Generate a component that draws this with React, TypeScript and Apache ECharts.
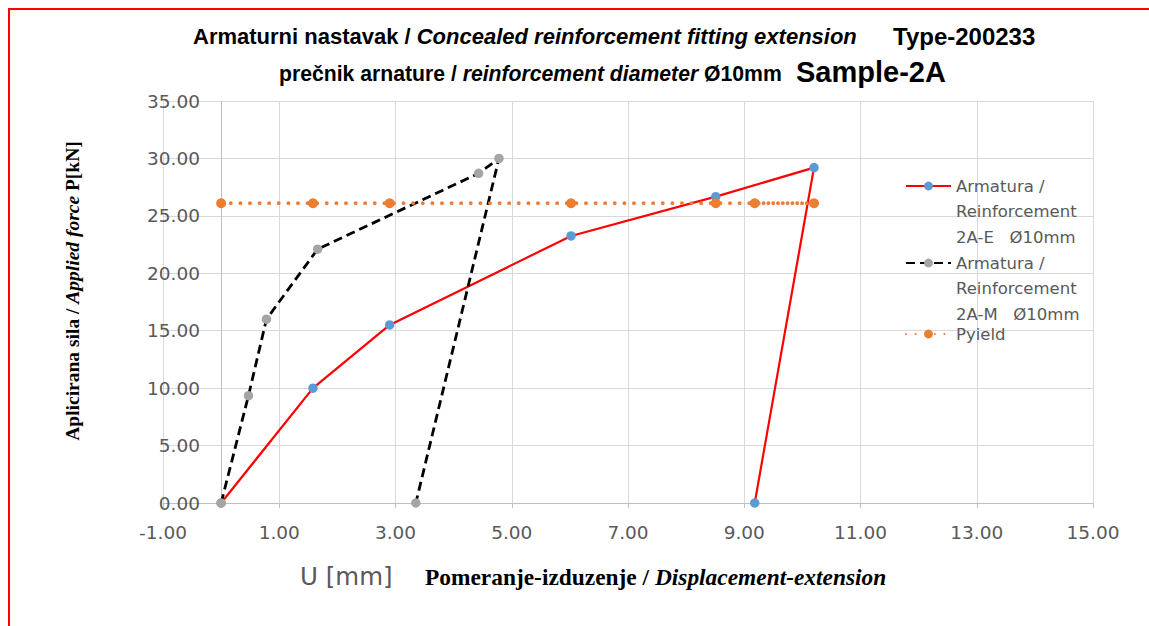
import React, { useEffect, useRef } from "react";
import * as echarts from "echarts";

// ---- data ----
const seriesNames = [
  "Armatura / Reinforcement 2A-E   Ø10mm",
  "Armatura / Reinforcement 2A-M   Ø10mm",
  "Pyield",
];
const legendLines = [
  ["Armatura /", "Reinforcement", "2A-E\u00a0\u00a0\u00a0Ø10mm"],
  ["Armatura /", "Reinforcement", "2A-M\u00a0\u00a0\u00a0Ø10mm"],
  ["Pyield"],
];
// Series 2A-E (red line, blue markers)
const eX = [0, 1.58, 2.9, 6.02, 8.51, 10.2, 9.18];
const eY = [0, 10.0, 15.5, 23.25, 26.67, 29.2, 0];
// Series 2A-M (black dashed, grey markers)
const mX = [0, 0.47, 0.78, 1.66, 4.43, 4.78, 3.35];
const mY = [0, 9.34, 16.0, 22.1, 28.7, 30.0, 0];
// Pyield (orange dotted)
const pX = [0, 1.58, 2.9, 6.02, 8.51, 10.2, 9.18];
const pY = [26.1, 26.1, 26.1, 26.1, 26.1, 26.1, 26.1];

// axis ranges
const X_MIN = -1;
const X_MAX = 15;
const X_STEP = 2;
const Y_MIN = 0;
const Y_MAX = 35;
const Y_STEP = 5;

// x axis is shifted so that min is a multiple of the interval
const X_SHIFT = -X_MIN;

const LEGEND_LH = 25.5;

export default function App() {
  const ref = useRef<HTMLDivElement>(null);

  useEffect(() => {
    if (!ref.current) return;
    const chart = echarts.init(ref.current, undefined, { renderer: "svg" });

    const toPairs = (xs: number[], ys: number[]) =>
      xs.map((x, i) => [x + X_SHIFT, ys[i]]);

    const labelFont = {
      color: "#595959",
      fontFamily: "DejaVu Sans",
      fontSize: 18.5,
    };

    // icon centre (first text line) of each legend entry
    const legendTops = [186, 263, 334];
    const legends = seriesNames.map((name, i) => {
      const n = legendLines[i].length;
      // leading blank lines so that the first real line is centred on the icon
      const lines = [...Array(n - 1).fill(""), ...legendLines[i]];
      const boxH = lines.length * LEGEND_LH;
      return {
        show: true,
        orient: "vertical",
        left: 905,
        top: legendTops[i] - boxH / 2,
        padding: 0,
        itemGap: 0,
        itemWidth: 45,
        itemHeight: 11,
        selectedMode: false,
        data: [name],
        formatter: () => lines.join("\n"),
        textStyle: {
          color: "#595959",
          fontFamily: "DejaVu Sans",
          fontSize: 16.5,
          lineHeight: LEGEND_LH,
        },
      };
    });

    const titleSans = "Liberation Sans";
    const serif = "Liberation Serif";

    const option: any = {
      animation: false,
      backgroundColor: "#ffffff",
      grid: {
        left: 163,
        right: 1149 - 1093,
        top: 101,
        bottom: 626 - 503,
        containLabel: false,
        outerBoundsMode: "none",
      },
      legend: legends,
      xAxis: {
        type: "value",
        min: X_MIN + X_SHIFT,
        max: X_MAX + X_SHIFT,
        interval: X_STEP,
        axisLine: { show: true, onZero: true, lineStyle: { color: "#BFBFBF", width: 1 } },
        axisTick: { show: true, length: 5, lineStyle: { color: "#BFBFBF" } },
        axisLabel: {
          ...labelFont,
          margin: 20,
          formatter: (v: number) => (v - X_SHIFT).toFixed(2),
        },
        splitLine: { show: true, lineStyle: { color: "#D9D9D9", width: 1 } },
      },
      yAxis: {
        type: "value",
        min: Y_MIN,
        max: Y_MAX,
        interval: Y_STEP,
        axisLine: { show: false },
        axisTick: { show: false },
        axisLabel: {
          ...labelFont,
          margin: -37,
          align: "right",
          formatter: (v: number) => v.toFixed(2),
        },
        splitLine: { show: true, lineStyle: { color: "#D9D9D9", width: 1 } },
      },
      series: [
        {
          name: seriesNames[0],
          type: "line",
          data: toPairs(eX, eY),
          symbol: "circle",
          symbolSize: 9.5,
          itemStyle: { color: "#5B9BD5" },
          lineStyle: { color: "#FF0000", width: 2.2 },
          emphasis: { disabled: true },
          markLine: {
            silent: true,
            symbol: "none",
            label: { show: false },
            lineStyle: { color: "#BFBFBF", type: "solid", width: 1 },
            emphasis: { disabled: true },
            data: [{ xAxis: 0 + X_SHIFT }],
            z: 0,
          },
          z: 3,
        },
        {
          name: seriesNames[1],
          type: "line",
          data: toPairs(mX, mY),
          symbol: "circle",
          symbolSize: 9.5,
          itemStyle: { color: "#A5A5A5" },
          lineStyle: { color: "#000000", width: 2.8, type: [9, 5] },
          emphasis: { disabled: true },
          z: 4,
        },
        {
          name: seriesNames[2],
          type: "line",
          data: toPairs(pX, pY),
          symbol: "circle",
          symbolSize: 10,
          itemStyle: { color: "#ED7D31" },
          lineStyle: { color: "#ED7D31", width: 3.8, type: [0.1, 9.5], cap: "round" },
          emphasis: { disabled: true },
          z: 5,
        },
      ],
      graphic: [
        {
          type: "text",
          x: 193,
          y: 36,
          style: {
            text: "{a|Armaturni nastavak / }{b|Concealed reinforcement fitting extension}",
            align: "left",
            verticalAlign: "middle",
            rich: {
              a: { fontFamily: titleSans, fontWeight: "bold", fontSize: 22, fill: "#000" },
              b: { fontFamily: titleSans, fontWeight: "bold", fontStyle: "italic", fontSize: 22, fill: "#000" },
            },
          },
        },
        {
          type: "text",
          x: 893,
          y: 36,
          style: {
            text: "Type-200233",
            align: "left",
            verticalAlign: "middle",
            fontFamily: titleSans,
            fontWeight: "bold",
            fontSize: 24,
            fill: "#000",
          },
        },
        {
          type: "text",
          x: 279,
          y: 73,
          style: {
            text: "{a|prečnik arnature / }{b|reinforcement diameter}{a| Ø10mm}",
            align: "left",
            verticalAlign: "middle",
            rich: {
              a: { fontFamily: titleSans, fontWeight: "bold", fontSize: 21.2, fill: "#000" },
              b: { fontFamily: titleSans, fontWeight: "bold", fontStyle: "italic", fontSize: 21.2, fill: "#000" },
            },
          },
        },
        {
          type: "text",
          x: 796,
          y: 72,
          style: {
            text: "Sample-2A",
            align: "left",
            verticalAlign: "middle",
            fontFamily: titleSans,
            fontWeight: "bold",
            fontSize: 29,
            fill: "#000",
          },
        },
        {
          type: "text",
          x: 72,
          y: 291,
          rotation: Math.PI / 2,
          style: {
            text: "{a|Aplicirana sila / }{b|Applied force}{a| P[kN]}",
            align: "center",
            verticalAlign: "middle",
            rich: {
              a: { fontFamily: serif, fontWeight: "bold", fontSize: 19.5, fill: "#000" },
              b: { fontFamily: serif, fontWeight: "bold", fontStyle: "italic", fontSize: 19.5, fill: "#000" },
            },
          },
        },
        {
          type: "text",
          x: 300,
          y: 576,
          style: {
            text: "U [mm]",
            align: "left",
            verticalAlign: "middle",
            fontFamily: "DejaVu Sans",
            fontSize: 24.5,
            fill: "#595959",
          },
        },
        {
          type: "text",
          x: 425,
          y: 577,
          style: {
            text: "{a|Pomeranje-izduzenje / }{b|Displacement-extension}",
            align: "left",
            verticalAlign: "middle",
            rich: {
              a: { fontFamily: serif, fontWeight: "bold", fontSize: 23.4, fill: "#000" },
              b: { fontFamily: serif, fontWeight: "bold", fontStyle: "italic", fontSize: 23.4, fill: "#000" },
            },
          },
        },
        {
          type: "rect",
          shape: { x: 9, y: 9, width: 1300, height: 800 },
          style: { fill: "none", stroke: "#FF0000", lineWidth: 2 },
          silent: true,
          z: 100,
        },
      ],
    };

    chart.setOption(option);
    return () => {
      chart.dispose();
    };
  }, []);

  return (
    <div
      ref={ref}
      style={{ position: "fixed", left: 0, top: 0, width: 1149, height: 626 }}
    />
  );
}
